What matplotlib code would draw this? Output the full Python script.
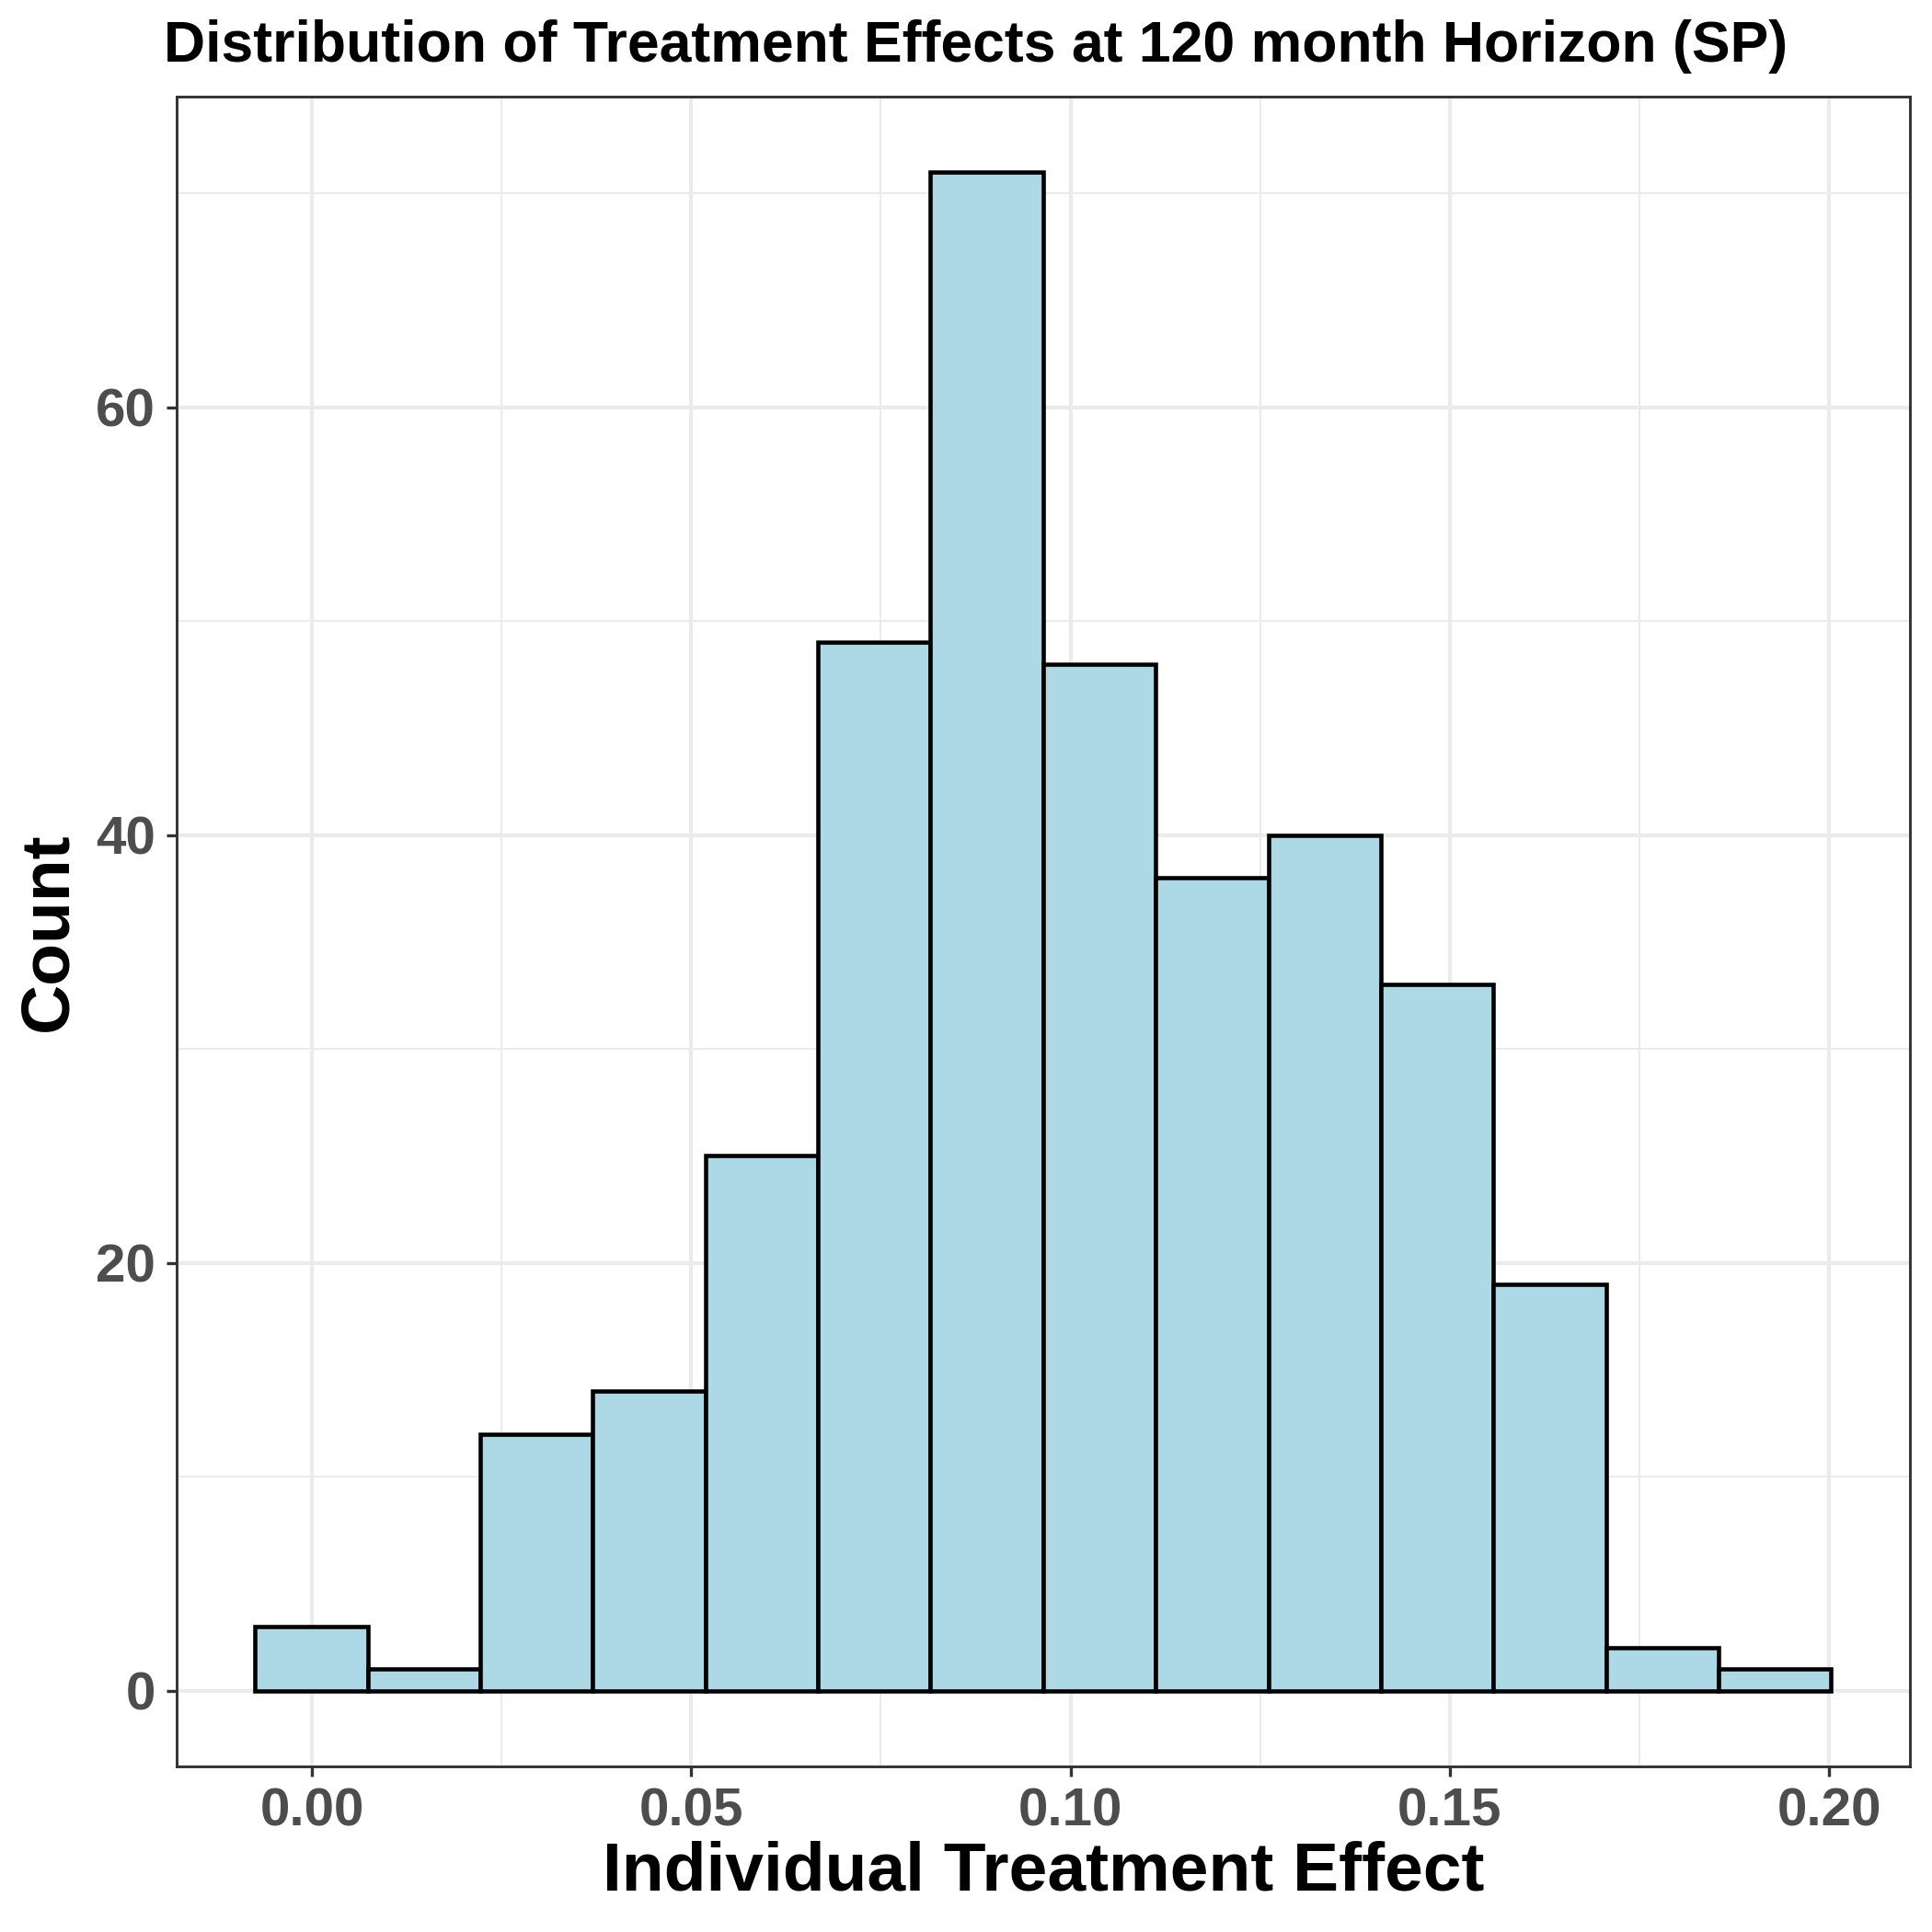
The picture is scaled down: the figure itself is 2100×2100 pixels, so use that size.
import matplotlib
matplotlib.use("Agg")
import matplotlib.pyplot as plt
import numpy as np
from matplotlib.ticker import MultipleLocator

plt.rcParams['font.family'] = ['Liberation Sans', 'DejaVu Sans']

bin_left = -0.0075
bin_width = 0.01484
counts = [3, 1, 12, 14, 25, 49, 71, 48, 38, 40, 33, 19, 2, 1]
x_ticks = [0.00, 0.05, 0.10, 0.15, 0.20]
x_tick_labels = ["0.00", "0.05", "0.10", "0.15", "0.20"]
y_ticks = [0, 20, 40, 60]

edges = bin_left + bin_width * np.arange(len(counts) + 1)

fig = plt.figure(figsize=(7, 7), dpi=300)
ax = fig.add_axes([0.0912, 0.0857, 0.8974, 0.8645])
ax.bar(edges[:-1], counts, width=bin_width, align='edge', color='#ADD8E6',
       edgecolor='black', linewidth=1.1, zorder=3)

xr = edges[-1] - edges[0]
ax.set_xlim(edges[0] - 0.05 * xr, edges[-1] + 0.05 * xr)
ymax = max(counts)
ax.set_ylim(-0.05 * ymax, ymax * 1.05)

ax.set_xticks(x_ticks)
ax.set_xticklabels(x_tick_labels)
ax.set_yticks(y_ticks)
ax.xaxis.set_minor_locator(MultipleLocator(0.025))
ax.yaxis.set_minor_locator(MultipleLocator(10))
ax.grid(which='major', color='#EBEBEB', linewidth=1.0, zorder=0)
ax.grid(which='minor', color='#EBEBEB', linewidth=0.5, zorder=0)
ax.tick_params(which='minor', length=0)
ax.tick_params(which='major', length=2.75, width=0.8, color='#333333',
               labelsize=14, labelcolor='#4D4D4D', pad=2.6)
for lab in ax.get_xticklabels() + ax.get_yticklabels():
    lab.set_fontweight('bold')
for s in ax.spines.values():
    s.set_color('#333333')
    s.set_linewidth(0.7)

ax.set_xlabel("Individual Treatment Effect", fontsize=18, fontweight='bold', labelpad=1)
ax.set_ylabel("Count", fontsize=18, fontweight='bold', labelpad=4)
fig.text(0.0848, 0.976, "Distribution of Treatment Effects at 120 month Horizon (SP)",
         fontsize=15, fontweight='bold', ha='left', va='center')

fig.savefig("out.png", dpi=300)
